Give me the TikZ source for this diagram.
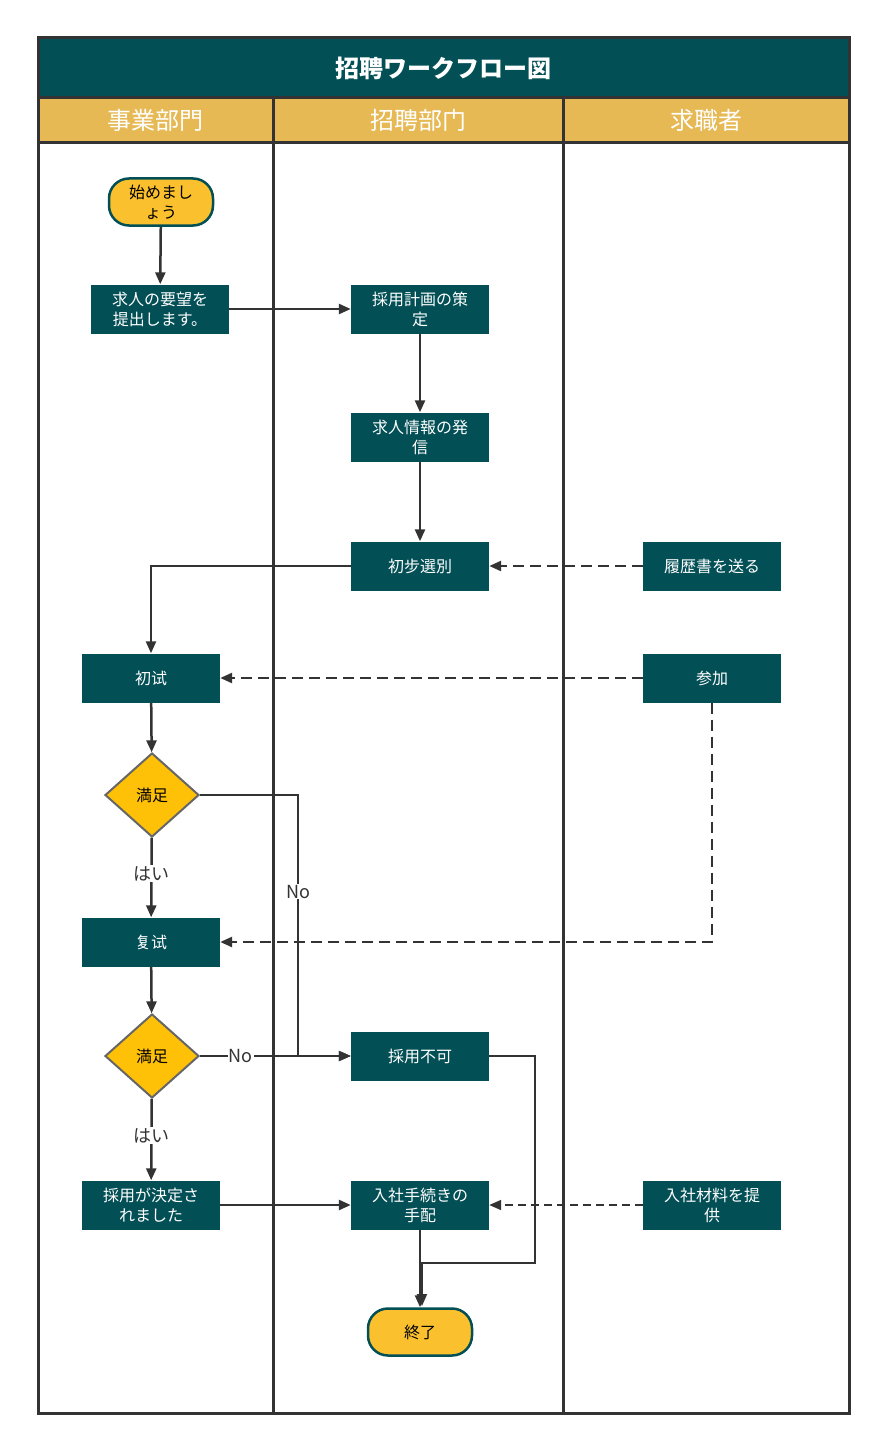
\documentclass[tikz,border=0pt]{standalone}
\usepackage{fontspec}
\setmainfont{Noto Sans CJK JP}
\usetikzlibrary{shapes.geometric,arrows.meta}
\definecolor{teal}{HTML}{024F55}
\definecolor{gold}{HTML}{E6B955}
\definecolor{yel}{HTML}{FBC02D}
\definecolor{dia}{HTML}{FFC107}
\definecolor{ln}{HTML}{333333}
\begin{document}
\begin{tikzpicture}[x=1pt,y=-1pt,
 box/.style={draw=none,fill=teal,text=white,minimum width=138pt,minimum height=49pt,align=center,inner sep=1pt,font=\fontsize{16}{20}\selectfont,text width=112pt},
 term/.style={draw=teal,line width=2.5pt,fill=yel,rounded corners=20pt,minimum width=104pt,minimum height=47pt,align=center,font=\fontsize{16}{20}\selectfont,inner sep=1pt},
 dm/.style={diamond,draw=gray!80!black,line width=2pt,fill=dia,minimum width=94pt,minimum height=84pt,inner sep=0pt,aspect=1.1,font=\fontsize{16}{19}\selectfont},
 ar/.style={draw=ln,line width=2.5pt,-{Triangle[length=12pt,width=10pt]}},
 thin/.style={draw=ln,line width=1.8pt,-{Triangle[length=12pt,width=10pt]}},
 da/.style={ar,dash pattern=on 11pt off 6pt},
 lab/.style={fill=white,inner sep=1pt,font=\fontsize{18}{20}\selectfont,text=ln}]
\useasboundingbox (0,0) rectangle (886,1450);
\fill[teal] (38,38) rectangle (849,98);
\node[text=white,font=\bfseries\fontsize{24}{26}\selectfont] (title) at (443,68) {招聘ワークフロー図};
\fill[gold] (38,98) rectangle (849,143);
\node[text=white,font=\fontsize{24}{26}\selectfont] (h1) at (155,120) {事業部門};
\node[text=white,font=\fontsize{24}{26}\selectfont] (h2) at (418,120) {招聘部门};
\node[text=white,font=\fontsize{24}{26}\selectfont] (h3) at (706,120) {求職者};
\draw[ln,line width=3pt] (38,38) rectangle (849,1413);
\draw[ln,line width=3pt] (38,98) -- (849,98) (38,143) -- (849,143) (273,98) -- (273,1413) (563,98) -- (563,1413);
\node[term] (st) at (161,202) {始めまし\\ょう};
\node[box] (n1) at (160,309) {求人の要望を\\提出します。};
\node[box] (n2) at (420,309) {採用計画の策\\定};
\node[box] (n3) at (420,437) {求人情報の発\\信};
\node[box] (n4) at (420,566) {初步選別};
\node[box] (n5) at (712,566) {履歴書を送る};
\node[box] (n6) at (151,678) {初试};
\node[box] (n7) at (712,678) {参加};
\node[dm] (d1) at (152,795) {満足};
\node[box] (n8) at (151,942) {复试};
\node[dm] (d2) at (152,1056) {満足};
\node[box] (n9) at (420,1056) {採用不可};
\node[box] (n10) at (151,1205) {採用が決定さ\\れました};
\node[box] (n11) at (420,1205) {入社手続きの\\手配};
\node[box] (n12) at (712,1205) {入社材料を提\\供};
\node[term] (en) at (420,1332) {終了};
\draw[ar] (st) -- (n1);
\draw[ar] (n1) -- (n2);
\draw[ar] (n2) -- (n3);
\draw[ar] (n3) -- (n4);
\draw[da] (n5) -- (n4);
\draw[ar] (n4.west) -| (n6.north);
\draw[da] (n7) -- (n6);
\draw[ar] (n6) -- (d1);
\draw[ar] (d1) -- node[lab,pos=0.45]{はい} (n8);
\draw[thin] (d1.east) -- (298,795) -- node[lab,pos=0.37]{No} (298,1056) -- (n9.west);
\draw[da] (n7.south) |- (n8.east);
\draw[ar] (n8) -- (d2);
\draw[thin] (d2.east) -- node[lab,pos=0.27]{No} (n9.west);
\draw[ar] (d2) -- node[lab,pos=0.45]{はい} (n10);
\draw[ar] (n10) -- (n11);
\draw[thin,dash pattern=on 8pt off 5pt] (n12) -- (n11);
\draw[ar] (n11) -- (en);
\draw[thin] (n9.east) -- (535,1056) -- (535,1263) -- (422,1263) -- (422,1306);
\end{tikzpicture}
\end{document}
